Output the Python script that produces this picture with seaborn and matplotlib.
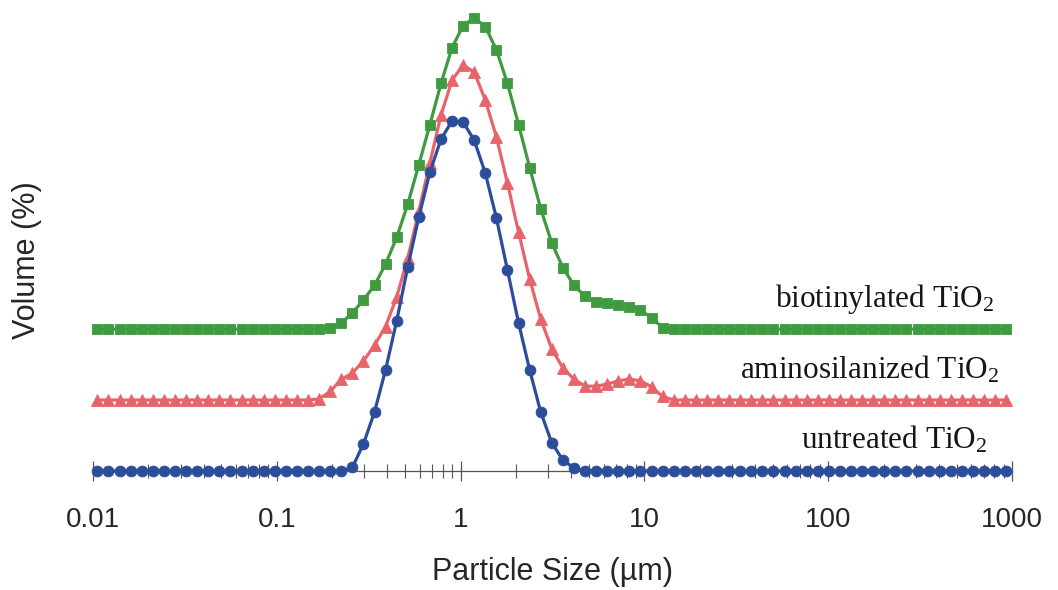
import numpy as np
import pandas as pd
import matplotlib
matplotlib.use("Agg")
import matplotlib.pyplot as plt
import seaborn as sns

# ---------------- data ----------------
# particle size classes (um), log-spaced instrument bins
size_um = [0.01057, 0.01214, 0.01395, 0.01603, 0.01842, 0.02116, 0.02431, 0.02794,
           0.03211, 0.03689, 0.04236, 0.04868, 0.05593, 0.06427, 0.07386, 0.08485,
           0.09745, 0.1120, 0.1287, 0.1478, 0.1698, 0.1951, 0.2243, 0.2576,
           0.2960, 0.3401, 0.3907, 0.4490, 0.5159, 0.5925, 0.6808, 0.7822,
           0.8987, 1.0325, 1.1863, 1.3631, 1.5660, 1.7992, 2.0676, 2.3755,
           2.7290, 3.1355, 3.6026, 4.1391, 4.7556, 5.4639, 6.2777, 7.2128,
           8.2869, 9.5217, 10.94, 12.57, 14.44, 16.59, 19.06, 21.90,
           25.17, 28.92, 33.22, 38.17, 43.85, 50.39, 57.89, 66.52,
           76.43, 87.81, 100.9, 115.9, 133.2, 153.0, 175.8, 202.0,
           232.1, 266.7, 306.4, 352.1, 404.5, 464.8, 534.0, 613.6,
           704.7, 809.6, 930.3]

# volume (%) per size class
untreated = [0, 0, 0, 0, 0, 0, 0, 0, 0, 0, 0, 0, 0, 0, 0, 0,
             0, 0, 0, 0, 0, 0, 0,
             0.10, 0.76, 1.66, 2.85, 4.23, 5.75, 7.15, 8.42, 9.35, 9.86,
             9.83, 9.32, 8.39, 7.13, 5.66, 4.17, 2.85, 1.66, 0.79, 0.31, 0.08,
             0, 0, 0, 0, 0, 0, 0, 0, 0, 0, 0, 0, 0, 0, 0, 0, 0, 0, 0, 0,
             0, 0, 0, 0, 0, 0, 0, 0, 0, 0, 0, 0, 0, 0, 0, 0, 0, 0, 0]

aminosilanized = [0, 0, 0, 0, 0, 0, 0, 0, 0, 0, 0, 0, 0, 0, 0, 0, 0, 0, 0, 0,
                  0.03,
                  0.24, 0.58, 0.76, 1.10, 1.54, 2.07, 2.90, 4.00, 5.32, 6.68,
                  8.03, 9.01, 9.44, 9.24, 8.45, 7.41, 6.11, 4.73, 3.41, 2.28,
                  1.44, 0.90, 0.59, 0.39, 0.39, 0.45, 0.54, 0.59, 0.54, 0.37,
                  0.10,
                  0, 0, 0, 0, 0, 0, 0, 0, 0, 0, 0, 0, 0, 0, 0, 0,
                  0, 0, 0, 0, 0, 0, 0, 0, 0, 0, 0, 0, 0, 0, 0]

biotinylated = [0, 0, 0, 0, 0, 0, 0, 0, 0, 0, 0, 0, 0, 0, 0, 0, 0, 0, 0, 0, 0,
                0.04, 0.17, 0.45, 0.82, 1.23, 1.83, 2.58, 3.52, 4.63, 5.76,
                6.92, 7.93, 8.55, 8.77, 8.52, 7.87, 6.92, 5.76, 4.55, 3.39,
                2.42, 1.73, 1.23, 0.92, 0.76, 0.72, 0.68, 0.62, 0.54, 0.31,
                0.04,
                0, 0, 0, 0, 0, 0, 0, 0, 0, 0, 0, 0, 0, 0, 0, 0,
                0, 0, 0, 0, 0, 0, 0, 0, 0, 0, 0, 0, 0, 0, 0]

series_names = ["biotinylated TiO$_\\mathregular{2}$",
                "aminosilanized TiO$_\\mathregular{2}$",
                "untreated TiO$_\\mathregular{2}$"]
offsets = [4.0, 2.0, 0.0]          # vertical stacking offsets
tick_values = [0.01, 0.1, 1, 10, 100, 1000]
tick_labels = ["0.01", "0.1", "1", "10", "100", "1000"]

# ---------------- style ----------------
sns.set_style("white")
plt.rcParams["font.family"] = ["Liberation Sans", "DejaVu Sans"]
plt.rcParams["mathtext.fontset"] = "custom"
plt.rcParams["mathtext.rm"] = "Liberation Serif"
plt.rcParams["mathtext.it"] = "Liberation Serif:italic"

colors = ["#3f9a40", "#e8646b", "#2c4d9b"]
markers = ["s", "^", "o"]
msizes = [7.4, 8.0, 7.8]

fig = plt.figure(figsize=(10.58, 5.90), dpi=100)
ax = fig.add_axes([0.0879, 0.2017, 0.8686, 0.7898])

data_series = [biotinylated, aminosilanized, untreated]
for vals, off, col, mk, ms, name in zip(data_series, offsets, colors, markers, msizes, series_names):
    df = pd.DataFrame({"size": size_um, "vol": np.array(vals) + off})
    sns.lineplot(data=df, x="size", y="vol", ax=ax, color=col, marker=mk,
                 markersize=ms, markeredgewidth=0.6, markeredgecolor=col,
                 linewidth=2.3, estimator=None, sort=True, clip_on=False, zorder=3)

ax.set_xscale("log")
ax.set_xlim(0.01, 1000)
ax.set_ylim(0, 13.13)

# series labels (Times-like serif)
label_x = [800, 858, 738]
for name, off, lx in zip(series_names, offsets, label_x):
    ax.text(lx, off + 0.62, name, ha="right", va="baseline",
            fontsize=22.5, family="Liberation Serif", color="#151515")

# axes styling
for s in ["left", "right", "top"]:
    ax.spines[s].set_visible(False)
ax.spines["bottom"].set_color("#555555")
ax.spines["bottom"].set_linewidth(0.9)
ax.spines["bottom"].set_zorder(2)
ax.set_yticks([])
ax.set_xticks(tick_values)
ax.set_xticklabels(tick_labels)
ax.xaxis.set_minor_locator(matplotlib.ticker.LogLocator(base=10, subs=np.arange(2, 10)))
ax.xaxis.set_minor_formatter(matplotlib.ticker.NullFormatter())
ax.tick_params(axis="x", which="major", direction="inout", length=15, width=0.9,
               color="#555555", labelsize=20, pad=18.5, bottom=True)
ax.tick_params(axis="x", which="minor", direction="inout", length=9.5, width=0.8,
               color="#555555", bottom=True)

ax.set_xlabel("Particle Size (µm)", fontsize=22)
ax.set_ylabel("Volume (%)", fontsize=22)
ax.xaxis.set_label_coords(0.5, -0.184)
ax.yaxis.set_label_coords(-0.056, 0.453)

fig.savefig("out.png", dpi=100)
